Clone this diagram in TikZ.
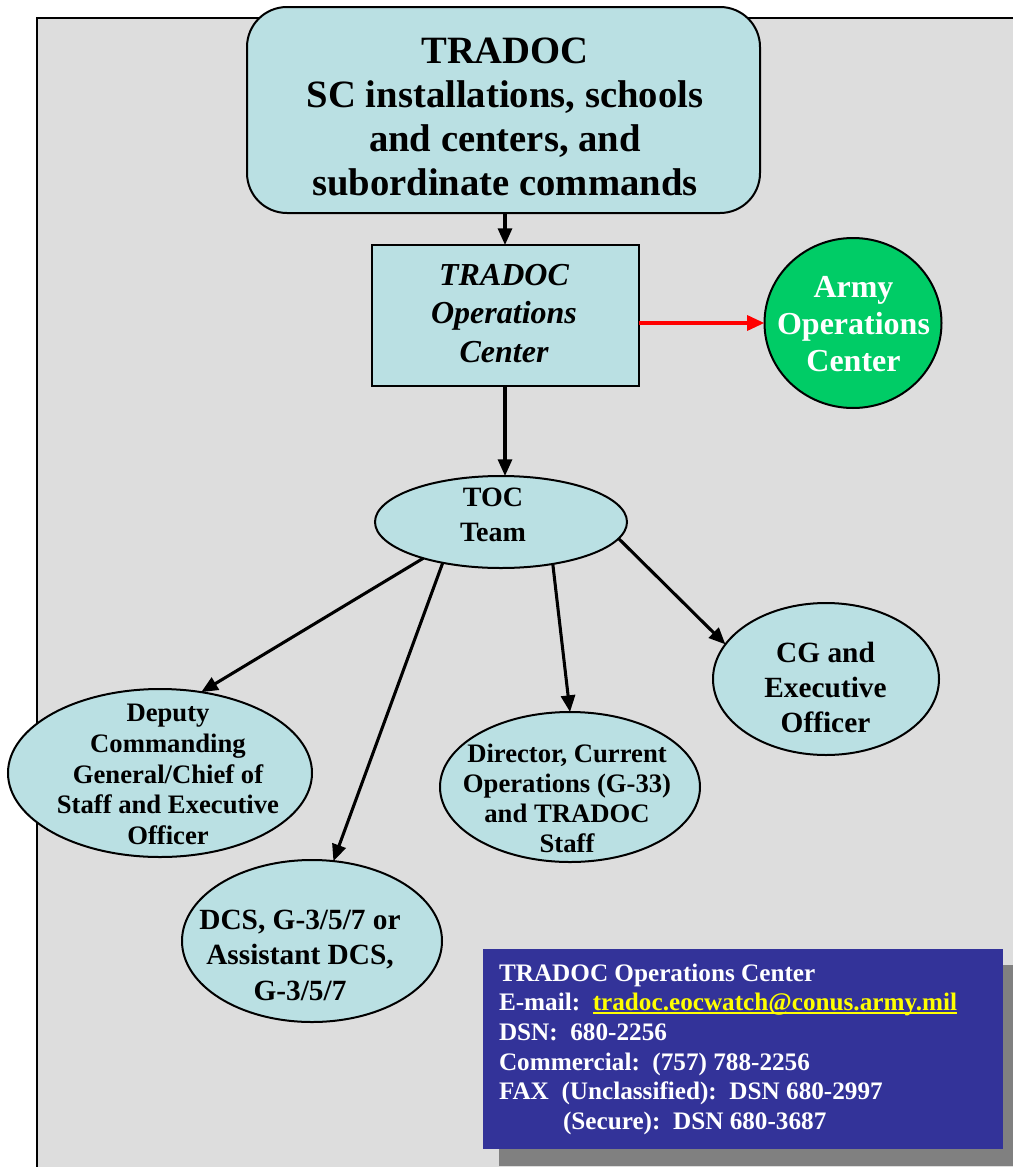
\documentclass[tikz,border=0pt]{standalone}
\usepackage{fontspec}
\setmainfont{Liberation Serif}
\usetikzlibrary{arrows.meta,shapes.geometric}
\definecolor{boxfill}{HTML}{BAE0E3}
\definecolor{bggray}{HTML}{DDDDDD}
\definecolor{armygreen}{HTML}{00CC66}
\definecolor{infoblue}{HTML}{333399}
\definecolor{shadowgray}{HTML}{808080}
\definecolor{linkyellow}{HTML}{FFFF00}
\newcommand\yellowlink[1]{\setbox0\hbox{#1}\rlap{\usebox0}\rule[-3.2pt]{\wd0}{1.8pt}}
\begin{document}
\begin{tikzpicture}[x=0.75pt,y=-0.75pt,
  every node/.style={inner sep=0pt,outer sep=0pt},
  shapeline/.style={draw=black,line width=1.5pt},
  bubble/.style={shapeline,ellipse,fill=boxfill},
  txt/.style={align=center},
  infotxt/.style={anchor=base west,text=white,font=\bfseries\fontsize{18.9}{22}\selectfont},
  conn/.style={line width=2.3pt,-{Triangle[length=12.5pt,width=10.5pt]}},
]
\clip (0,0) rectangle (1013,1167);
\fill[white] (0,0) rectangle (1013,1167);
\draw[fill=bggray,line width=1.5pt] (37,18) rectangle (1040,1200);

% top box
\node[shapeline,fill=boxfill,rounded corners=30pt,minimum width=384.75pt,minimum height=154.5pt] (top) at (503.5,110) {};
\node[txt,font=\bfseries\fontsize{29}{33}\selectfont] (toptxt) at (505,116.5)
  {TRADOC\\SC installations, schools\\and centers, and\\subordinate commands};

% operations center box
\node[shapeline,fill=boxfill,minimum width=200.25pt,minimum height=105.75pt] (ops) at (505,315.5) {};
\node[txt,font=\bfseries\itshape\fontsize{24}{28.9}\selectfont] (opstxt) at (504,313.5)
  {TRADOC\\Operations\\Center};

% army operations center
\node[shapeline,ellipse,fill=armygreen,minimum width=132.75pt,minimum height=127.5pt] (army) at (853,323) {};
\node[txt,text=white,font=\bfseries\fontsize{24}{27.75}\selectfont] (armytxt) at (853.5,324)
  {Army\\Operations\\Center};

% TOC team
\node[bubble,minimum width=189pt,minimum height=69pt] (toc) at (501,522) {};
\node[txt,font=\bfseries\fontsize{21}{26.25}\selectfont] (toctxt) at (493,514.5) {TOC\\Team};

% Deputy
\node[bubble,minimum width=228pt,minimum height=126pt] (dep) at (160,773) {};
\node[txt,font=\bfseries\fontsize{20}{23}\selectfont] (deptxt) at (168,774.5)
  {Deputy\\Commanding\\General/Chief of\\Staff and Executive\\Officer};

% DCS
\node[bubble,minimum width=195pt,minimum height=121.5pt] (dcs) at (312,941) {};
\node[txt,font=\bfseries\fontsize{22}{26.6}\selectfont] (dcstxt) at (300,955)
  {DCS, G-3/5/7 or\\Assistant DCS,\\G-3/5/7};

% Director
\node[bubble,minimum width=195pt,minimum height=112.5pt] (dir) at (570,787) {};
\node[txt,font=\bfseries\fontsize{20}{22.5}\selectfont] (dirtxt) at (567,798)
  {Director, Current\\Operations (G-33)\\and TRADOC\\Staff};

% CG
\node[bubble,minimum width=169.5pt,minimum height=114pt] (cg) at (826,679) {};
\node[txt,font=\bfseries\fontsize{22}{26.25}\selectfont] (cgtxt) at (825.5,687)
  {CG and\\Executive\\Officer};

% connectors
\draw[conn] (ops.north |- top.south) -- (ops.north);
\draw[conn] (ops.south) -- (ops.south |- toc.north);
\draw[line width=3pt,red,-{Triangle[length=13pt,width=11pt]}] (army.west -| ops.east) -- (army.west);
\draw[conn] (toc.205.7) -- (dep.63.2);
\draw[conn] (toc.215.3) -- (dcs.75.1);
\draw[conn] (toc.321.6) -- (dir.90);
\draw[conn] (toc.352.1) -- (cg.161.7);

% info box
\fill[shadowgray] (499,964.5) rectangle (1040,1166);
\node[fill=infoblue,minimum width=390pt,minimum height=150pt] (info) at (743,1048.5) {};
\node[infotxt] (info1) at (499,981) {TRADOC Operations Center};
\node[infotxt] (info2) at (499,1010) {E-mail:\ \ {\color{linkyellow}\yellowlink{tradoc.eocwatch@conus.army.mil}}};
\node[infotxt] (info3) at (499,1040) {DSN:\ \ 680-2256};
\node[infotxt] (info4) at (499,1070) {Commercial:\ \ (757) 788-2256};
\node[infotxt] (info5) at (499,1099) {FAX\ \ (Unclassified):\ \ DSN 680-2997};
\node[infotxt] (info6) at (563,1129) {(Secure):\ \ DSN 680-3687};
\end{tikzpicture}
\end{document}
